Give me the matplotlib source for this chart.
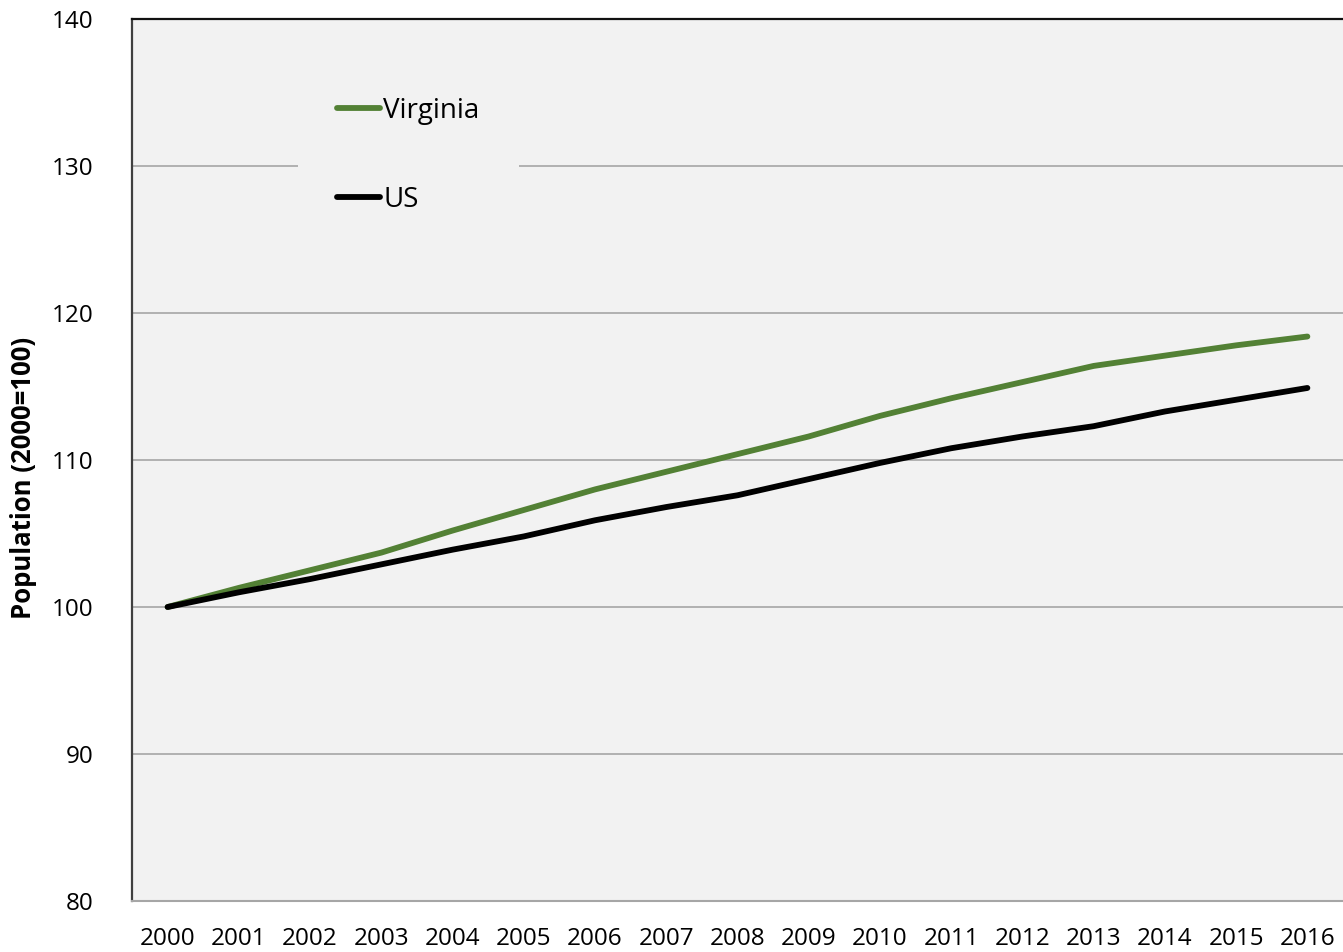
import matplotlib
matplotlib.use('Agg')
import matplotlib.pyplot as plt

years = list(range(2000, 2017))
virginia = [100, 101.3, 102.5, 103.7, 105.2, 106.6, 108.0, 109.2, 110.4,
            111.6, 113.0, 114.2, 115.3, 116.4, 117.1, 117.8, 118.4]
us = [100, 101.0, 101.9, 102.9, 103.9, 104.8, 105.9, 106.8, 107.6,
      108.7, 109.8, 110.8, 111.6, 112.3, 113.3, 114.1, 114.9]
y_ticks = [80, 90, 100, 110, 120, 130, 140]

plt.rcParams['font.family'] = ['Open Sans', 'DejaVu Sans']

fig = plt.figure(figsize=(13.43, 9.52), dpi=100)
ax = fig.add_axes([132 / 1343, 1 - 901 / 952, 1 - 132 / 1343, (901 - 19) / 952])
ax.set_facecolor('#f2f2f2')

x = list(range(len(years)))
ax.plot(x, virginia, color='#538135', lw=4.2, solid_capstyle='round',
        label='Virginia', zorder=3)
ax.plot(x, us, color='#000000', lw=4.2, solid_capstyle='round',
        label='US', zorder=4)

ax.set_xlim(-0.5, len(years) - 0.5)
ax.set_ylim(80, 140)
ax.set_yticks(y_ticks)
ax.set_xticks(x)
ax.set_xticklabels([str(y) for y in years])
ax.tick_params(axis='both', labelsize=17.5, length=0, colors='black')
ax.tick_params(axis='y', pad=28)
ax.tick_params(axis='x', pad=19)
ax.grid(axis='y', color='#a6a6a6', lw=1.2)
ax.set_axisbelow(True)

ax.spines['top'].set_color('#111111')
ax.spines['top'].set_linewidth(1.6)
ax.spines['left'].set_color('#404040')
ax.spines['left'].set_linewidth(1.6)
ax.spines['bottom'].set_color('#a6a6a6')
ax.spines['bottom'].set_linewidth(1.5)
ax.spines['right'].set_visible(False)

ax.set_ylabel('Population (2000=100)', fontsize=18.5, fontweight='bold')
ax.yaxis.set_label_coords(-0.0785, 0.48)

leg = ax.legend(loc='upper left', bbox_to_anchor=(0.137, 0.9565), frameon=True,
                fontsize=20, handlelength=1.55, handletextpad=0.11,
                labelspacing=2.2, borderpad=1.42, borderaxespad=0)
leg.get_frame().set_facecolor('#f2f2f2')
leg.get_frame().set_edgecolor('none')
leg.get_frame().set_alpha(1)
leg.get_frame().set_boxstyle('square', pad=0)

fig.savefig('out.png', dpi=100)
